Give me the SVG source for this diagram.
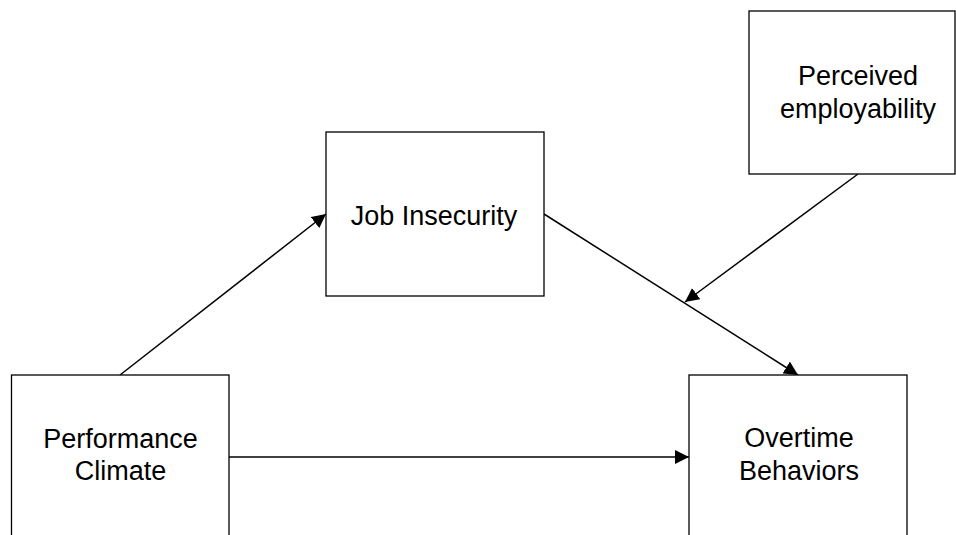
<svg xmlns="http://www.w3.org/2000/svg" width="956" height="535" viewBox="0 0 956 535">
<style>
.box{fill:#fff;stroke:#000;stroke-width:1.3}
.lbl{font-family:"Liberation Sans",Arial,sans-serif;font-size:27px;fill:#000;text-anchor:middle}
.con{stroke:#000;stroke-width:1.5;fill:none;marker-end:url(#ah)}
</style>
<defs>
<marker id="ah" viewBox="0 0 10 10" refX="10" refY="5" markerWidth="14" markerHeight="14" markerUnits="userSpaceOnUse" orient="auto">
<path d="M0,0 L10,5 L0,10 Z" fill="#000"/>
</marker>
</defs>
<rect width="956" height="535" fill="#fff"/>
<g id="connectors">
<line class="con" x1="120" y1="375" x2="326" y2="214"/>
<line class="con" x1="229" y1="457" x2="689" y2="457"/>
<line class="con" x1="544" y1="214" x2="798" y2="375"/>
<line class="con" x1="858" y1="174" x2="685" y2="302"/>
</g>
<g id="performance-climate">
<rect class="box" x="11.5" y="375" width="217.5" height="170"/>
<text class="lbl" x="120.5" y="448">Performance</text>
<text class="lbl" x="120.5" y="480">Climate</text>
</g>
<g id="job-insecurity">
<rect class="box" x="326" y="132" width="218" height="164"/>
<text class="lbl" x="434" y="225">Job Insecurity</text>
</g>
<g id="perceived-employability">
<rect class="box" x="749" y="11" width="206" height="163"/>
<text class="lbl" x="858" y="85">Perceived</text>
<text class="lbl" x="858" y="118">employability</text>
</g>
<g id="overtime-behaviors">
<rect class="box" x="689" y="375" width="218" height="170"/>
<text class="lbl" x="799" y="447">Overtime</text>
<text class="lbl" x="799" y="480">Behaviors</text>
</g>
</svg>
